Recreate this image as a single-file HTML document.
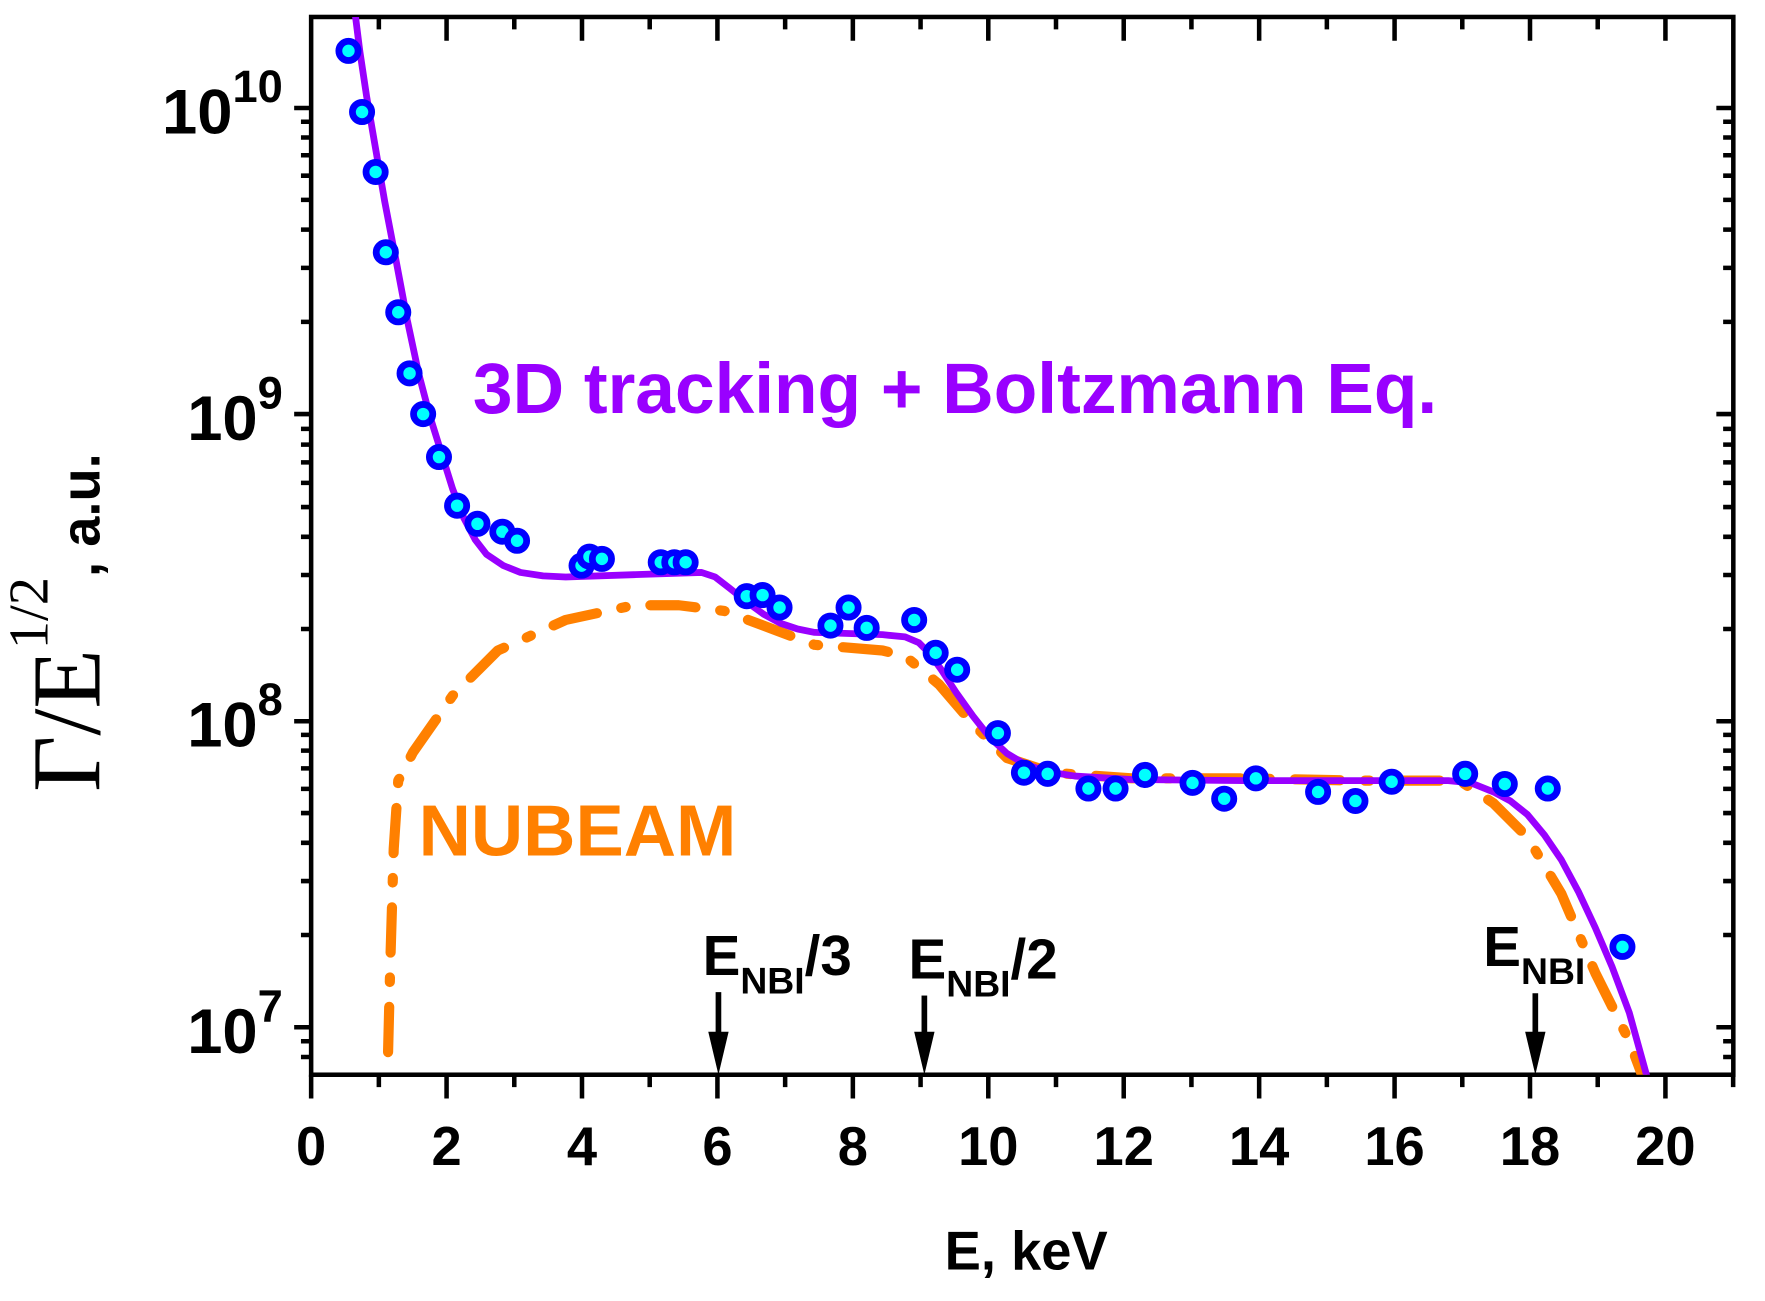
<!DOCTYPE html>
<html><head><meta charset="utf-8"><style>
html,body{margin:0;padding:0;background:#fff;}
svg{display:block;}
text{font-family:"Liberation Sans",sans-serif;font-weight:bold;}
</style></head><body>
<svg width="1765" height="1301" viewBox="0 0 1560 1150" preserveAspectRatio="none" xmlns="http://www.w3.org/2000/svg">
<defs><clipPath id="c"><rect x="275" y="15" width="1257" height="935"/></clipPath></defs>
<rect x="275" y="15" width="1257" height="935" stroke="#000" stroke-width="4" fill="none"/>
<path stroke="#000" stroke-width="4" fill="none" d="
M275,950v21 M334.85,950v11 M394.7,950v21 M454.55,950v11 M514.4,950v21 M574.25,950v11 M634.1,950v21 M693.95,950v11 M753.8,950v21 M813.65,950v11 M873.5,950v21 M933.35,950v11 M993.2,950v21 M1053.05,950v11 M1112.9,950v21 M1172.75,950v11 M1232.6,950v21 M1292.45,950v11 M1352.3,950v21 M1412.15,950v11 M1472,950v21 M1531.85,950v11
M334.85,15v11 M394.7,15v21 M454.55,15v11 M514.4,15v21 M574.25,15v11 M634.1,15v21 M693.95,15v11 M753.8,15v21 M813.65,15v11 M873.5,15v21 M933.35,15v11 M993.2,15v21 M1053.05,15v11 M1112.9,15v21 M1172.75,15v11 M1232.6,15v21 M1292.45,15v11 M1352.3,15v21 M1412.15,15v11 M1472,15v21
M275,95.5h-15 M275,366h-15 M275,637.5h-15 M275,908h-15
M1532,95.5h-15 M1532,366h-15 M1532,637.5h-15 M1532,908h-15
M275,920.4h-9 M275,934.3h-9 M275,826.5h-9 M275,778.8h-9 M275,745h-9 M275,718.7h-9 M275,697.3h-9 M275,679.2h-9 M275,663.5h-9 M275,649.6h-9
M275,556h-9 M275,508.3h-9 M275,474.5h-9 M275,448.2h-9 M275,426.8h-9 M275,408.7h-9 M275,393h-9 M275,379.1h-9
M275,284.5h-9 M275,236.8h-9 M275,203h-9 M275,176.7h-9 M275,155.3h-9 M275,137.2h-9 M275,121.5h-9 M275,107.6h-9
M1532,920.4h-9 M1532,934.3h-9 M1532,826.5h-9 M1532,778.8h-9 M1532,745h-9 M1532,718.7h-9 M1532,697.3h-9 M1532,679.2h-9 M1532,663.5h-9 M1532,649.6h-9
M1532,556h-9 M1532,508.3h-9 M1532,474.5h-9 M1532,448.2h-9 M1532,426.8h-9 M1532,408.7h-9 M1532,393h-9 M1532,379.1h-9
M1532,284.5h-9 M1532,236.8h-9 M1532,203h-9 M1532,176.7h-9 M1532,155.3h-9 M1532,137.2h-9 M1532,121.5h-9 M1532,107.6h-9
"/>
<g clip-path="url(#c)">
<polyline fill="none" stroke="#ff8000" stroke-width="9" stroke-linecap="round" stroke-linejoin="round" stroke-dasharray="40,22,4,22" points="343,930 345,850 348,750 352,690 365,665 400,615 440,575 500,548 560,535 600,535 640,540 680,555 720,570 780,575 800,580 830,605 860,640 890,670 930,683 1000,688 1100,688 1200,690 1290,690 1320,710 1350,740 1380,790 1410,860 1440,920 1455,960"/>
<polyline fill="none" stroke="#9900ff" stroke-width="6" stroke-linejoin="round" points="313,5 318,45 324,85 330,120 340,178 350,230 360,283 370,330 380,368 390,400 400,432 410,458 420,477 430,490 445,500 460,506 480,509 500,510 560,508 620,506 632,510 645,520 660,532 675,543 690,551 705,556 720,559 750,560 780,561 800,563 812,568 822,578 832,592 845,612 860,633 875,652 890,666 905,675 925,682 950,686 1000,689 1100,690 1200,690 1280,690 1300,692 1320,700 1335,708 1350,720 1365,738 1380,760 1395,788 1410,820 1425,855 1440,895 1458,960"/>
<g fill="#00ffff" stroke="#0000ff" stroke-width="6">
<circle cx="308" cy="45" r="8.5"/><circle cx="320" cy="99" r="8.5"/><circle cx="332" cy="152" r="8.5"/><circle cx="341" cy="223" r="8.5"/><circle cx="352" cy="276" r="8.5"/><circle cx="362" cy="330" r="8.5"/><circle cx="374" cy="366" r="8.5"/><circle cx="388" cy="404" r="8.5"/><circle cx="404" cy="447" r="8.5"/><circle cx="422" cy="463" r="8.5"/><circle cx="444" cy="470" r="8.5"/><circle cx="457" cy="478" r="8.5"/><circle cx="514" cy="500" r="8.5"/><circle cx="521" cy="492" r="8.5"/><circle cx="532" cy="494" r="8.5"/><circle cx="584" cy="497" r="8.5"/><circle cx="596" cy="497" r="8.5"/><circle cx="606" cy="497" r="8.5"/><circle cx="660" cy="527" r="8.5"/><circle cx="674" cy="526" r="8.5"/><circle cx="689" cy="537" r="8.5"/><circle cx="734" cy="553" r="8.5"/><circle cx="750" cy="537" r="8.5"/><circle cx="766" cy="555" r="8.5"/><circle cx="808" cy="548" r="8.5"/><circle cx="827" cy="577" r="8.5"/><circle cx="846" cy="592" r="8.5"/><circle cx="882" cy="648" r="8.5"/><circle cx="905" cy="683" r="8.5"/><circle cx="926" cy="684" r="8.5"/><circle cx="962" cy="697" r="8.5"/><circle cx="986" cy="697" r="8.5"/><circle cx="1012" cy="685" r="8.5"/><circle cx="1054" cy="692" r="8.5"/><circle cx="1082" cy="706" r="8.5"/><circle cx="1110" cy="688" r="8.5"/><circle cx="1165" cy="700" r="8.5"/><circle cx="1198" cy="708" r="8.5"/><circle cx="1230" cy="691" r="8.5"/><circle cx="1295" cy="684" r="8.5"/><circle cx="1330" cy="693" r="8.5"/><circle cx="1368" cy="697" r="8.5"/><circle cx="1434" cy="837" r="8.5"/>
</g>
</g>
<g font-size="56" text-anchor="end">
<text x="250" y="118">10<tspan font-size="40" dy="-28">10</tspan></text>
<text x="250" y="389">10<tspan font-size="40" dy="-28">9</tspan></text>
<text x="250" y="660">10<tspan font-size="40" dy="-28">8</tspan></text>
<text x="250" y="931">10<tspan font-size="40" dy="-28">7</tspan></text>
</g>
<g font-size="48" text-anchor="middle">
<text x="275" y="1030">0</text><text x="394.7" y="1030">2</text><text x="514.4" y="1030">4</text><text x="634.1" y="1030">6</text><text x="753.8" y="1030">8</text><text x="873.5" y="1030">10</text><text x="993.2" y="1030">12</text><text x="1112.9" y="1030">14</text><text x="1232.6" y="1030">16</text><text x="1352.3" y="1030">18</text><text x="1472" y="1030">20</text>
</g>
<text x="907" y="1122" font-size="48" text-anchor="middle">E, keV</text>
<text transform="translate(88,700) rotate(-90)" font-size="48"><tspan font-family="Liberation Serif" font-weight="normal" font-size="86">Γ/E</tspan><tspan font-family="Liberation Serif" font-weight="normal" font-size="50" dy="-46">1/2</tspan><tspan dy="46">, a.u.</tspan></text>
<text x="418" y="365" font-size="63" fill="#9900ff">3D tracking + Boltzmann Eq.</text>
<text x="370" y="756" font-size="64" fill="#ff8000">NUBEAM</text>
<g font-size="50">
<text x="621" y="862">E<tspan font-size="33" dy="16">NBI</tspan><tspan dy="-16">/3</tspan></text>
<text x="803" y="865">E<tspan font-size="33" dy="16">NBI</tspan><tspan dy="-16">/2</tspan></text>
<text x="1311" y="854">E<tspan font-size="33" dy="16">NBI</tspan></text>
</g>
<g stroke="#000" stroke-width="5">
<line x1="635" y1="877" x2="635" y2="915"/><line x1="817" y1="880" x2="817" y2="915"/><line x1="1357" y1="878" x2="1357" y2="915"/>
</g>
<g fill="#000">
<polygon points="626,912 644,912 635,950"/><polygon points="808,912 826,912 817,950"/><polygon points="1348,912 1366,912 1357,950"/>
</g>
</svg>
</body></html>
